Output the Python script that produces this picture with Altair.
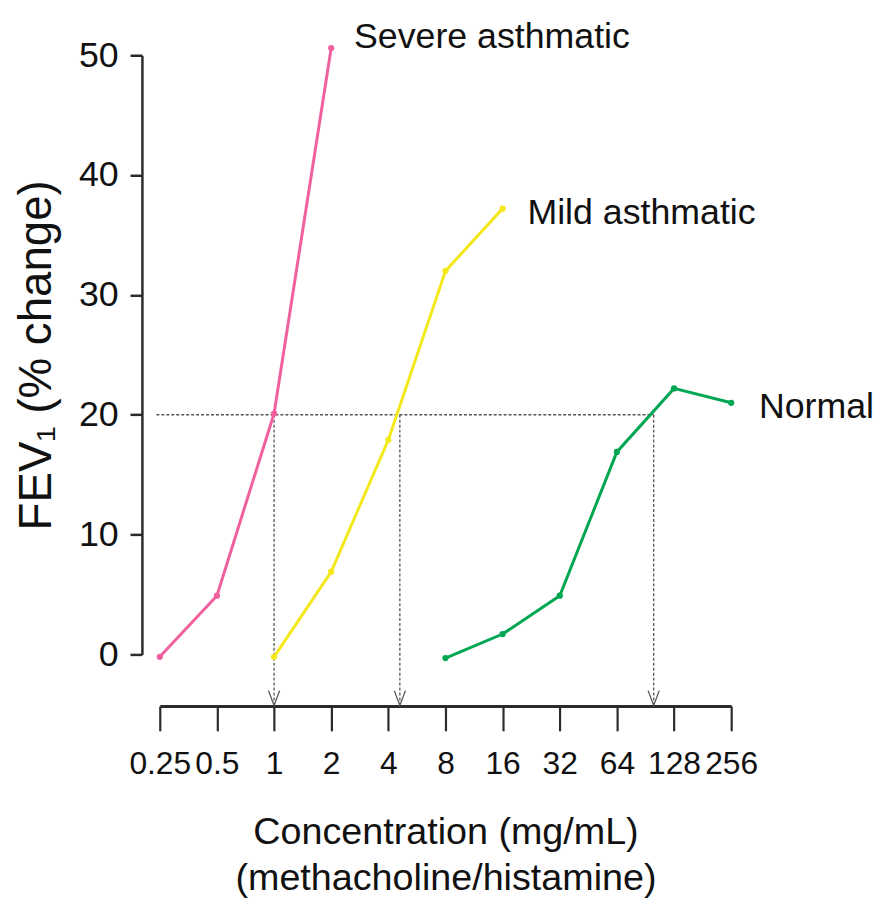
import altair as alt
import pandas as pd

# ---- data ----
TICK_VALUES = [0.25, 0.5, 1, 2, 4, 8, 16, 32, 64, 128, 256]
Y_TICKS = [0, 10, 20, 30, 40, 50]

SERIES = ["Severe asthmatic", "Mild asthmatic", "Normal"]
COLORS = ["#f0609f", "#f5e81a", "#00a651"]

SEVERE_X = [0.25, 0.5, 1, 2]
SEVERE_Y = [-0.2, 4.9, 20.1, 50.6]
MILD_X = [1, 2, 4, 8, 16]
MILD_Y = [-0.2, 6.9, 17.9, 32.0, 37.2]
NORMAL_X = [8, 16, 32, 64, 128, 256]
NORMAL_Y = [-0.3, 1.7, 4.9, 16.9, 22.2, 21.0]

PC20_LEVEL = 20
PC20_X = [1, 4.6, 100]
HLINE_START = 0.24

# ---- layout ----
W, H = 576, 604
X_OFFSET = 52
FONT = "Liberation Sans, Arial"
AXIS_COLOR = "#2b2b2b"
DOT_COLOR = "#555555"

rows = []
for name, xs, ys in [(SERIES[0], SEVERE_X, SEVERE_Y),
                     (SERIES[1], MILD_X, MILD_Y),
                     (SERIES[2], NORMAL_X, NORMAL_Y)]:
    for x, y in zip(xs, ys):
        rows.append({"series": name, "conc": x, "fev": y})
df = pd.DataFrame(rows)

last = df.groupby("series", sort=False).tail(1)

x_scale = alt.Scale(type="log", base=2, domain=[0.25, 256], nice=False)
y_scale = alt.Scale(domain=[0, 50], nice=False, zero=False)

x_enc = alt.X(
    "conc:Q",
    scale=x_scale,
    axis=alt.Axis(
        values=TICK_VALUES,
        format=".2~f",
        offset=X_OFFSET,
        domainWidth=3,
        domainColor=AXIS_COLOR,
        tickColor=AXIS_COLOR,
        tickWidth=2.2,
        tickSize=25,
        labelFont=FONT,
        labelFontSize=32,
        labelColor="#111111",
        labelPadding=18,
        labelOverlap=False,
        labelFlush=False,
        labelBound=False,
        grid=False,
        title=["Concentration (mg/mL)", "(methacholine/histamine)"],
        titleFont=FONT,
        titleFontSize=38,
        titleFontWeight="normal",
        titleColor="#111111",
        titleLineHeight=46,
        titlePadding=35,
    ),
)
y_enc = alt.Y(
    "fev:Q",
    scale=y_scale,
    axis=alt.Axis(
        values=Y_TICKS,
        offset=18,
        domainWidth=2.5,
        domainColor=AXIS_COLOR,
        tickColor=AXIS_COLOR,
        tickWidth=2.5,
        tickSize=12,
        labelFont=FONT,
        labelFontSize=36,
        labelColor="#111111",
        labelPadding=12,
        grid=False,
        title="FEV\u2081 (% change)",
        titleFont=FONT,
        titleFontSize=46,
        titleFontWeight="normal",
        titleColor="#111111",
        titlePadding=18,
    ),
)
color_enc = alt.Color("series:N", scale=alt.Scale(domain=SERIES, range=COLORS), legend=None)

base = alt.Chart(df)

lines = base.mark_line(strokeWidth=3).encode(x=x_enc, y=y_enc, color=color_enc, detail="series:N")
points = base.mark_circle(size=40, opacity=1).encode(x=x_enc, y=y_enc, color=color_enc)

hline_df = pd.DataFrame({"conc": [HLINE_START], "conc2": [max(PC20_X)], "fev": [PC20_LEVEL]})
hline = alt.Chart(hline_df).mark_rule(strokeDash=[3, 2], strokeWidth=1.3, color=DOT_COLOR).encode(
    x=x_enc, x2="conc2:Q", y=y_enc
)

vdf = pd.DataFrame({"conc": PC20_X, "fev": [PC20_LEVEL] * len(PC20_X)})
vlines = alt.Chart(vdf).mark_rule(strokeDash=[3, 2], strokeWidth=1.3, color=DOT_COLOR).encode(
    x=x_enc, y=y_enc, y2=alt.value(H + X_OFFSET - 2)
)
arrows = alt.Chart(vdf).mark_point(
    shape="M-0.75,-1L0,1L0.75,-1", filled=False, size=225, strokeWidth=1.3, color=DOT_COLOR, opacity=1
).encode(x=x_enc, y=alt.value(H + X_OFFSET - 8))

label_offsets = {SERIES[0]: (23, 0), SERIES[1]: (25, 15), SERIES[2]: (28, 15)}
labels = []
for name in SERIES:
    dx, dy = label_offsets[name]
    labels.append(
        alt.Chart(last[last["series"] == name]).mark_text(
            align="left", baseline="alphabetic", dx=dx, dy=dy,
            font=FONT, fontSize=36, color="#111111"
        ).encode(x=x_enc, y=y_enc, text="series:N")
    )

chart = alt.layer(hline, vlines, arrows, lines, points, *labels).properties(
    width=W,
    height=H,
    autosize=alt.AutoSizeParams(type="none"),
    padding={"left": 153, "top": 44, "right": 148, "bottom": 252},
).configure(background="white").configure_view(stroke=None, strokeWidth=0)

chart.save("out.html", embed_options={"renderer": "svg", "actions": False})
